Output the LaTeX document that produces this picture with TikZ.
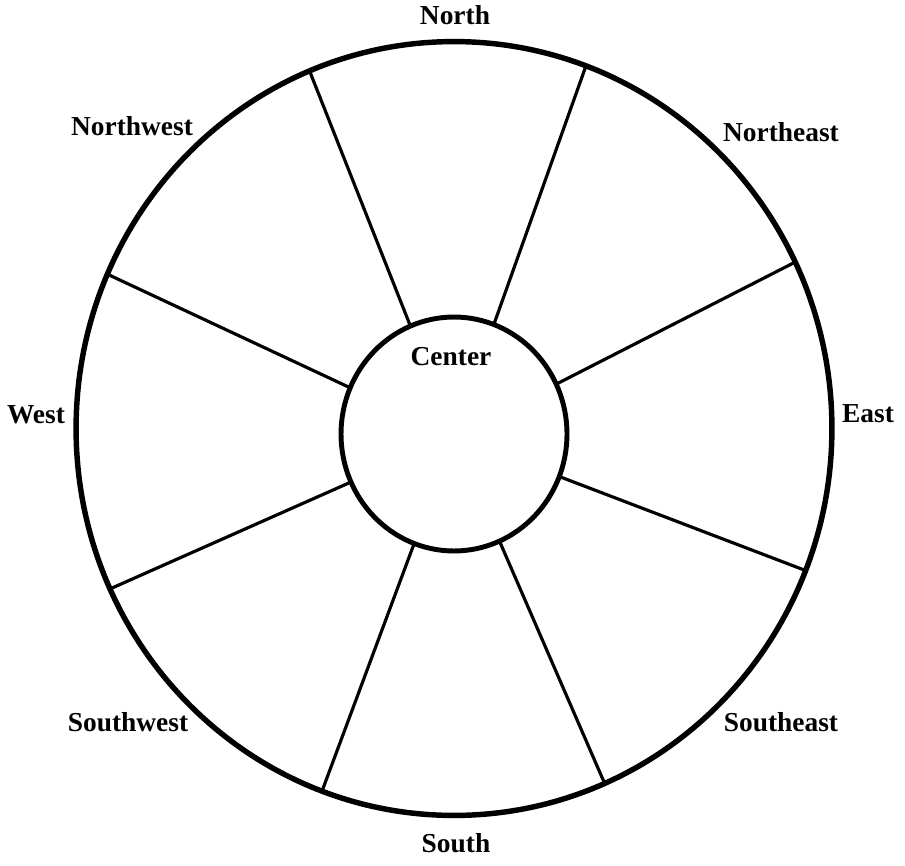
\documentclass[tikz,border=0pt]{standalone}
\usepackage{fontspec}
\setmainfont{Liberation Serif}
\usetikzlibrary{shapes.geometric}

\begin{document}
\begin{tikzpicture}[
  x=0.02cm, y=-0.02cm,
  ring/.style={draw,ellipse,inner sep=0pt,outer sep=0pt},
  spoke/.style={line width=1.8pt},
  lbl/.style={font=\fontsize{15.6}{18}\selectfont\bfseries,anchor=base,inner sep=0pt}
]
  \useasboundingbox (0,0) rectangle (905,865);

  % Wheel
  \node[ring,line width=3.1pt,minimum width=15.12cm,minimum height=15.48cm] (rim) at (454,428.5) {};
  \node[ring,line width=2.8pt,minimum width=4.52cm,minimum height=4.68cm] (hub) at (454,434) {};

  % Spokes between the sectors
  \foreach \a in {26,70,112,156,205,250,293,338}{
    \draw[spoke] (hub.\a) -- (rim.\a);
  }

  % Directions
  \node[lbl] (north)     at (455,25)  {North};
  \node[lbl] (northeast) at (781,141) {Northeast};
  \node[lbl] (east)      at (868,422) {East};
  \node[lbl] (southeast) at (781,731) {Southeast};
  \node[lbl] (south)     at (456,852) {South};
  \node[lbl] (southwest) at (128,731) {Southwest};
  \node[lbl] (west)      at (36,423)  {West};
  \node[lbl] (northwest) at (132,135) {Northwest};
  \node[lbl] (center)    at (451,365) {Center};
\end{tikzpicture}
\end{document}
